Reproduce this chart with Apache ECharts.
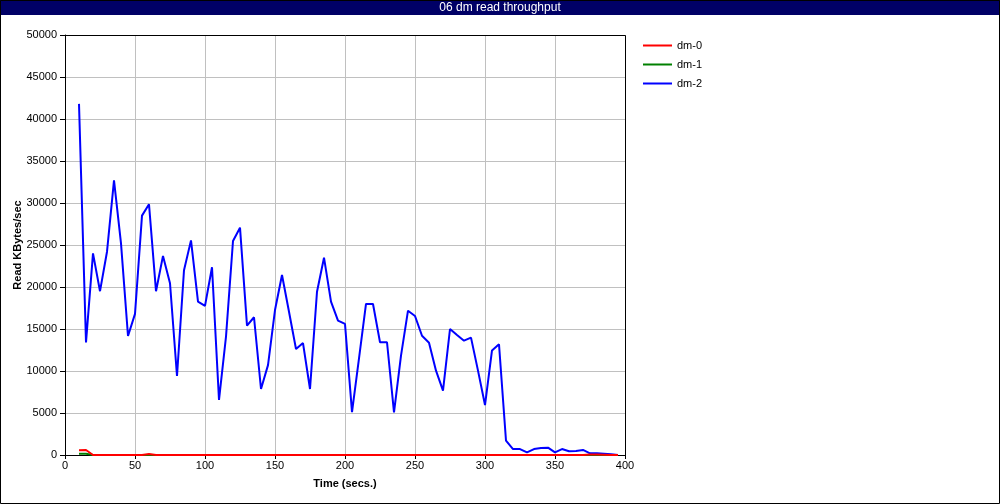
<!DOCTYPE html>
<html>
<head>
<meta charset="utf-8">
<script src="https://cdn.jsdelivr.net/npm/echarts@6/dist/echarts.min.js"></script>
<style>
html,body{margin:0;padding:0;background:#fff;}
#chart{width:1000px;height:504px;}
</style>
</head>
<body>
<div id="chart"></div>
<script>
const chartTitle = "06 dm read throughput";
const seriesNames = ["dm-0", "dm-1", "dm-2"];
const seriesColors = ["#ff0000", "#008000", "#0000ff"];
const times = [10,15,20,25,30,35,40,45,50,55,60,65,70,75,80,85,90,95,100,105,110,115,120,125,130,135,140,145,150,155,160,165,170,175,180,185,190,195,200,205,210,215,220,225,230,235,240,245,250,255,260,265,270,275,280,285,290,295,300,305,310,315,320,325,330,335,340,345,350,355,360,365,370,375,380,385,390,395];
const dm0 = [560,600,0,0,0,0,0,0,0,0,120,0,0,0,0,0,0,0,0,0,0,0,0,0,0,0,0,0,0,0,0,0,0,0,0,0,0,0,0,0,0,0,0,0,0,0,0,0,0,0,0,0,0,0,0,0,0,0,0,0,0,0,0,0,0,0,0,0,0,0,0,0,0,60,60,40,0,0];
const dm1 = [150,150,0,0,0,0,0,0,0,0,0,0,0,0,0,0,0,0,0,0,0,0,0,0,0,0,0,0,0,0,0,0,0,0,0,0,0,0,0,0,0,0,0,0,0,0,0,0,0,0,0,0,0,0,0,0,0,0,0,0,0,0,0,0,0,0,0,0,0,0,0,0,0,0,0,0,0,0];
const dm2 = [41800,13400,24000,19500,24200,32700,25200,14170,16800,28500,29850,19500,23700,20450,9400,22000,25550,18250,17750,22350,6550,14100,25480,27060,15400,16400,7860,10700,17260,21430,17060,12620,13330,7860,19440,23490,18250,15990,15600,5100,11500,17980,17980,13420,13420,5080,11820,17180,16550,14200,13370,10040,7660,15000,14290,13610,13970,10040,5950,12450,13190,1700,710,710,320,710,830,870,320,710,440,480,600,200,200,150,80,0];
const seriesData = [dm0, dm1, dm2];
const xTicks = [0,50,100,150,200,250,300,350,400];
const yTicks = [0,5000,10000,15000,20000,25000,30000,35000,40000,45000,50000];

const FONT = "Liberation Sans";
const chart = echarts.init(document.getElementById('chart'), null, {renderer:'canvas'});
const zs = [5,4,3];
chart.setOption({
  animation: false,
  backgroundColor: '#ffffff',
  title: {
    text: chartTitle, left: 'center', top: 1, padding: 0,
    textStyle: {color:'#ffffff', fontFamily: FONT, fontSize: 12, fontWeight: 'normal', lineHeight: 14}
  },
  graphic: [
    {type:'rect', z:-1, silent:true, shape:{x:0,y:0,width:1000,height:15}, style:{fill:'#000066'}},
    {type:'rect', z:10, silent:true, shape:{x:0.5,y:0.5,width:999,height:503}, style:{fill:'none', stroke:'#000000', lineWidth:1}},
    {type:'rect', z:1, silent:true, shape:{x:65.5,y:35.5,width:560,height:420}, style:{fill:'none', stroke:'#000000', lineWidth:1}}
  ],
  legend: {
    orient: 'vertical', left: 638, top: 35, itemGap: 8,
    itemWidth: 29, itemHeight: 11,
    icon: 'path://M0,5 L29,5 L29,7 L0,7 Z',
    textStyle: {fontFamily: FONT, fontSize: 11, color:'#000'},
    data: seriesNames.map((n,i)=>({name:n, itemStyle:{color:seriesColors[i]}}))
  },
  grid: {left: 65, right: 375, top: 35, bottom: 49, containLabel: false, outerBoundsMode: 'none'},
  xAxis: {
    type: 'value', min: xTicks[0], max: xTicks[xTicks.length-1], interval: 50,
    name: 'Time (secs.)', nameLocation: 'middle', nameGap: 23, nameMoveOverlap: false,
    nameTextStyle: {fontFamily: FONT, fontSize: 11, fontWeight: 'bold', color:'#000'},
    axisLine: {show: true, onZero: false, lineStyle: {color:'#000', width:1}},
    axisTick: {show: true, length: 4, lineStyle:{color:'#000'}},
    axisLabel: {fontFamily: FONT, fontSize: 11, color:'#000', margin: 5, formatter: v => String(v)},
    splitLine: {show: true, lineStyle: {color:'#c0c0c0', width:1}}
  },
  yAxis: {
    type: 'value', min: yTicks[0], max: yTicks[yTicks.length-1], interval: 5000,
    name: 'Read KBytes/sec', nameLocation: 'middle', nameGap: 42, nameMoveOverlap: false,
    nameTextStyle: {fontFamily: FONT, fontSize: 11, fontWeight: 'bold', color:'#000'},
    axisLine: {show: true, onZero: false, lineStyle: {color:'#000', width:1}},
    axisTick: {show: true, length: 5, lineStyle:{color:'#000'}},
    axisLabel: {fontFamily: FONT, fontSize: 11, color:'#000', margin: 8, formatter: v => String(v)},
    splitLine: {show: true, lineStyle: {color:'#c0c0c0', width:1}}
  },
  series: seriesNames.map((n,i)=>({
    name: n, type: 'line', z: zs[i],
    data: times.map((t,k)=>[t, seriesData[i][k]]),
    showSymbol: false, symbol: 'none',
    lineStyle: {color: seriesColors[i], width: 2},
    itemStyle: {color: seriesColors[i]}
  }))
});
</script>
</body>
</html>
